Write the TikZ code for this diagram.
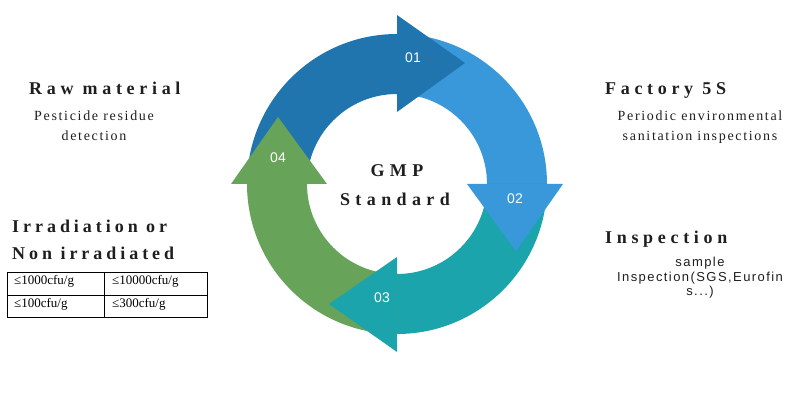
\documentclass[tikz,border=0pt]{standalone}
\usepackage{fontspec}
\setmainfont{Liberation Serif}
\newfontfamily\headfont[LetterSpace=26]{Liberation Serif}
\newfontfamily\headfontb[LetterSpace=22]{Liberation Serif}
\newfontfamily\centerfont[LetterSpace=30]{Liberation Serif}
\newfontfamily\bodyfont[LetterSpace=12]{Liberation Serif}
\newfontfamily\sansbody[LetterSpace=11]{Liberation Sans}
\newfontfamily\numfont{Liberation Sans}
\definecolor{cA}{HTML}{2175AE}
\definecolor{cB}{HTML}{3898DA}
\definecolor{cC}{HTML}{1CA4AC}
\definecolor{cD}{HTML}{68A35A}
\definecolor{txt}{HTML}{1E1E1E}
\tikzset{
  head/.style={font=\headfont\bfseries\fontsize{18}{20}\selectfont, text=txt, inner sep=0pt, anchor=base west},
  headb/.style={font=\headfontb\bfseries\fontsize{18}{20}\selectfont, text=txt, inner sep=0pt, anchor=base west},
  ctext/.style={font=\centerfont\bfseries\fontsize{18}{20}\selectfont, text=txt, inner sep=0pt, anchor=base},
  body/.style={font=\bodyfont\fontsize{14}{16}\selectfont, text=txt, inner sep=0pt, anchor=base},
  sbody/.style={font=\sansbody\fontsize{13}{15}\selectfont, text=txt, inner sep=0pt, anchor=base},
  num/.style={font=\numfont\fontsize{14}{16}\selectfont, text=white, inner sep=0pt},
  cell/.style={font=\fontsize{13}{15}\selectfont, text=black, inner sep=0pt, anchor=base west},
}
\begin{document}
\begin{tikzpicture}[x=1pt,y=1pt]
\useasboundingbox (0,0) rectangle (800,399);
\coordinate (c) at (397,215);
% bands
\fill[cA] ([shift={(180:150)}]c) arc[start angle=180,end angle=90,radius=150]
  -- ([shift={(90:90)}]c) arc[start angle=90,end angle=180,radius=90] -- cycle;
\fill[cB] ([shift={(90:150)}]c) arc[start angle=90,end angle=0,radius=150]
  -- ([shift={(0:90)}]c) arc[start angle=0,end angle=90,radius=90] -- cycle;
\fill[cC] ([shift={(0:150)}]c) arc[start angle=0,end angle=-90,radius=150]
  -- ([shift={(-90:90)}]c) arc[start angle=-90,end angle=0,radius=90] -- cycle;
\fill[cD] ([shift={(-90:150)}]c) arc[start angle=-90,end angle=-180,radius=150]
  -- ([shift={(-180:90)}]c) arc[start angle=-180,end angle=-90,radius=90] -- cycle;
% heads
\fill[cA] (397,384) -- (465,336) -- (397,287) -- cycle;
\fill[cB] (467,215) -- (563,215) -- (516,148) -- cycle;
\fill[cC] (397,142) -- (329,95) -- (397,47) -- cycle;
\fill[cD] (231,215) -- (327,215) -- (278,282) -- cycle;
% numbers
\node[num] (n1) at (413,341) {01};
\node[num] (n2) at (515,200) {02};
\node[num] (n3) at (382,101) {03};
\node[num] (n4) at (278,241) {04};
% center
\node[ctext] (gmp) at (397,222) {GMP};
\node[ctext] (std) at (395,193) {Standard};
% left top
\node[head] (raw) at (29,304) {Raw material};
\node[body] (raw1) at (94,278) {Pesticide residue};
\node[body] (raw2) at (94,258) {detection};
% right top
\node[head] (fac) at (605,304) {Factory 5S};
\node[body] (fac1) at (700,278) {Periodic environmental};
\node[body] (fac2) at (700,258) {sanitation inspections};
% right bottom
\node[head] (ins) at (605,155) {Inspection};
\node[sbody] (ins1) at (700,132) {sample};
\node[sbody] (ins2) at (700,117) {Inspection(SGS,Eurofin};
\node[sbody] (ins3) at (700,103) {s...)};
% left bottom
\node[headb] (irr1) at (12,166) {Irradiation or};
\node[headb] (irr2) at (12,139) {Non irradiated};
\node[draw=black, line width=0.8pt, minimum width=200pt, minimum height=45pt, inner sep=0pt, anchor=north west] (tab) at (7,127) {};
\draw[line width=0.8pt] (tab.north) ++(-3,0) coordinate (tv1) -- (tv1 |- tab.south);
\draw[line width=0.8pt] ([yshift=-23pt]tab.north west) coordinate (th1) -- (th1 -| tab.east);
\node[cell] (t11) at (14,114) {≤1000cfu/g};
\node[cell] (t12) at (112,114) {≤10000cfu/g};
\node[cell] (t21) at (14,92) {≤100cfu/g};
\node[cell] (t22) at (112,92) {≤300cfu/g};
\end{tikzpicture}
\end{document}
